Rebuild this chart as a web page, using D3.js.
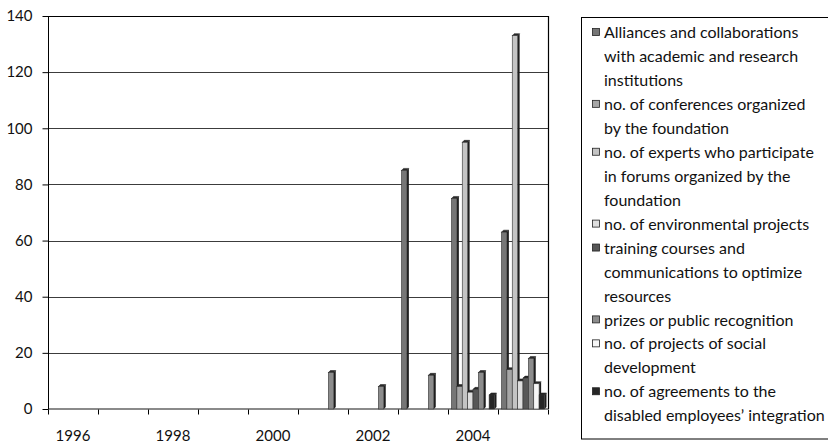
<!DOCTYPE html>
<html>
<head>
<meta charset="utf-8">
<script src="https://cdn.jsdelivr.net/npm/d3@7"></script>
<style>
  html, body { margin: 0; padding: 0; background: #fff; }
  svg { display: block; font-family: "Lato", "Open Sans", sans-serif; }
</style>
</head>
<body>
<svg id="chart" width="828" height="443"></svg>
<script>
// Years on the category axis
const years = ["1996", "1997", "1998", "1999", "2000", "2001", "2002", "2003", "2004", "2005"];
// Only every other year carries a label
const yearLabels = ["1996", "1998", "2000", "2002", "2004"];
const yTicks = [0, 20, 40, 60, 80, 100, 120, 140];

// Series names (legend text, already wrapped into lines)
const seriesNames = [
  ["Alliances and collaborations", "with academic and research", "institutions"],
  ["no. of conferences organized", "by the foundation"],
  ["no. of experts who participate", "in forums organized by the", "foundation"],
  ["no. of environmental projects"],
  ["training courses and", "communications to optimize", "resources"],
  ["prizes or public recognition"],
  ["no. of projects of social", "development"],
  ["no. of agreements to the", "disabled employees\u2019 integration"]
];

// Values per series, one per year
const alliances    = [0, 0, 0, 0, 0, 0, 0, 85, 75, 63];
const conferences  = [0, 0, 0, 0, 0, 0, 0, 0, 8, 14];
const experts      = [0, 0, 0, 0, 0, 0, 0, 0, 95, 133];
const environment  = [0, 0, 0, 0, 0, 0, 0, 0, 6, 10];
const training     = [0, 0, 0, 0, 0, 0, 0, 0, 7, 11];
const prizes       = [0, 0, 0, 0, 0, 13, 8, 12, 13, 18];
const socialProj   = [0, 0, 0, 0, 0, 0, 0, 0, 0, 9];
const agreements   = [0, 0, 0, 0, 0, 0, 0, 0, 5, 5];

const seriesValues = [alliances, conferences, experts, environment, training, prizes, socialProj, agreements];
const seriesColors = ["#767676", "#a6a6a6", "#c4c4c4", "#dedede", "#575757", "#8c8c8c", "#f6f6f6", "#262626"];

const svg = d3.select("#chart");
const plot = { left: 48, right: 548, top: 16, bottom: 409 };

const x0 = d3.scaleBand().domain(years).range([plot.left, plot.right]).paddingInner(0).paddingOuter(0);
const x1 = d3.scaleBand().domain(d3.range(seriesValues.length)).range([0, x0.bandwidth()])
  .paddingInner(0).paddingOuter(0.65);
const y = d3.scaleLinear().domain([0, 140]).range([plot.bottom, plot.top]);

// Gridlines
svg.append("g")
  .selectAll("line")
  .data(yTicks.filter(t => t > 0 && t < 140))
  .join("line")
  .attr("x1", plot.left).attr("x2", plot.right)
  .attr("y1", d => Math.round(y(d)) + 0.5).attr("y2", d => Math.round(y(d)) + 0.5)
  .attr("stroke", "#3c3c3c").attr("stroke-width", 1);

// Plot frame: top and right edges
svg.append("path")
  .attr("d", `M${plot.left},${plot.top + 0.5}H${plot.right + 0.5}V${plot.bottom}`)
  .attr("fill", "none").attr("stroke", "#000").attr("stroke-width", 1.2);

// Floor line
svg.append("line")
  .attr("x1", plot.left).attr("x2", plot.right)
  .attr("y1", plot.bottom).attr("y2", plot.bottom)
  .attr("stroke", "#8a8a8a").attr("stroke-width", 2);

// Y axis
const yAxis = svg.append("g")
  .attr("transform", `translate(${plot.left + 0.5},0)`)
  .call(d3.axisLeft(y).tickValues(yTicks).tickSize(6).tickPadding(10).tickFormat(d3.format("d")));
yAxis.select(".domain").attr("stroke", "#000").attr("d", `M0,${plot.top}V${plot.bottom}`);
yAxis.selectAll(".tick line").attr("stroke", "#000");
yAxis.selectAll(".tick text").attr("font-size", 15).attr("fill", "#111")
  .attr("font-family", "Lato, sans-serif");

// X axis: ticks at category boundaries
const xAxisG = svg.append("g").attr("transform", `translate(0,${plot.bottom + 0.5})`);
const boundaries = years.map(yr => x0(yr)).concat([x0(years[years.length - 1]) + x0.bandwidth()]);
xAxisG.selectAll("line")
  .data(boundaries)
  .join("line")
  .attr("x1", d => Math.round(d) + 0.5).attr("x2", d => Math.round(d) + 0.5)
  .attr("y1", 0).attr("y2", 5)
  .attr("stroke", "#000");
xAxisG.selectAll("text")
  .data(yearLabels)
  .join("text")
  .attr("x", d => x0(d) + x0.bandwidth() / 2)
  .attr("y", 31)
  .attr("text-anchor", "middle")
  .attr("font-size", 15)
  .attr("fill", "#111")
  .text(d => d);

// Bars with a small 3D depth
const depth = 2;
const barW = x1.bandwidth();
const bars = [];
seriesValues.forEach((vals, si) => {
  vals.forEach((v, yi) => {
    if (v > 0) bars.push({ si, year: years[yi], v });
  });
});
bars.sort((a, b) => d3.ascending(years.indexOf(a.year), years.indexOf(b.year)) || d3.ascending(a.si, b.si));

const barG = svg.append("g");
bars.forEach(b => {
  const bx = x0(b.year) + x1(b.si);
  const top = y(b.v);
  const base = plot.bottom;
  const g = barG.append("g");
  // right side face
  g.append("path")
    .attr("d", `M${bx + barW},${top}L${bx + barW + depth},${top - depth}L${bx + barW + depth},${base - depth}L${bx + barW},${base}Z`)
    .attr("fill", "#1e1e1e");
  // top face
  g.append("path")
    .attr("d", `M${bx},${top}L${bx + depth},${top - depth}L${bx + barW + depth},${top - depth}L${bx + barW},${top}Z`)
    .attr("fill", "#2a2a2a").attr("stroke", "#1a1a1a").attr("stroke-width", 0.5);
  // front face
  g.append("rect")
    .attr("x", bx).attr("y", top)
    .attr("width", barW).attr("height", base - top)
    .attr("fill", seriesColors[b.si])
    .attr("stroke", "#333").attr("stroke-width", 0.6);
});

// Legend
const legend = svg.append("g");
legend.append("rect")
  .attr("x", 581.5).attr("y", 17.5)
  .attr("width", 260).attr("height", 421.5)
  .attr("fill", "#fff").attr("stroke", "#000").attr("stroke-width", 1);

const lineH = 23.95;
let lineIdx = 0;
seriesNames.forEach((lines, si) => {
  const cy = 32.5 + lineIdx * lineH;
  legend.append("rect")
    .attr("x", 592.5).attr("y", cy - 4)
    .attr("width", 7).attr("height", 7)
    .attr("fill", seriesColors[si])
    .attr("stroke", "#222").attr("stroke-width", 0.8);
  lines.forEach((t, li) => {
    legend.append("text")
      .attr("x", 604)
      .attr("y", 32.5 + (lineIdx + li) * lineH)
      .attr("dy", "0.35em")
      .attr("font-size", 16)
      .attr("fill", "#111")
      .text(t);
  });
  lineIdx += lines.length;
});
</script>
</body>
</html>
